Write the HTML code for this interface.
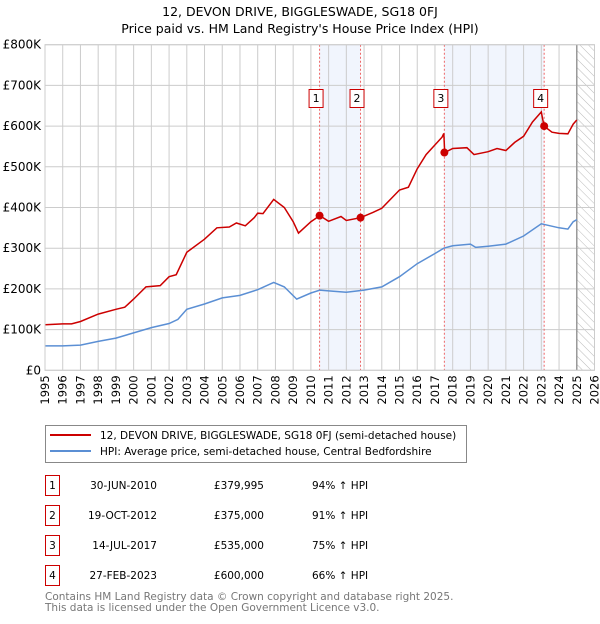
<!DOCTYPE html>
<html><head><meta charset="utf-8">
<style>
body{margin:0;background:#fff;font-family:"DejaVu Sans","Liberation Sans",sans-serif;}
svg text{font-family:"DejaVu Sans","Liberation Sans",sans-serif;}
</style></head>
<body>
<svg id="chart" width="600" height="620" xmlns="http://www.w3.org/2000/svg">
<defs>
<pattern id="hatch" width="6" height="6" patternUnits="userSpaceOnUse" patternTransform="rotate(-45)">
<line x1="0" y1="0" x2="0" y2="6" stroke="#bbb" stroke-width="1"/>
</pattern>
</defs>
<text x="300" y="16" text-anchor="middle" font-size="12.5">12, DEVON DRIVE, BIGGLESWADE, SG18 0FJ</text>
<text x="300" y="33" text-anchor="middle" font-size="12.5">Price paid vs. HM Land Registry's House Price Index (HPI)</text>
<g id="plot"></g>
<g>
<rect x="45.5" y="425.5" width="421" height="37" fill="#fff" stroke="#888"/>
<line x1="50" y1="435" x2="91" y2="435" stroke="#cc0000" stroke-width="2"/>
<text x="100" y="439" font-size="10.5">12, DEVON DRIVE, BIGGLESWADE, SG18 0FJ (semi-detached house)</text>
<line x1="50" y1="451" x2="91" y2="451" stroke="#5b8fd4" stroke-width="2"/>
<text x="100" y="455" font-size="10.5">HPI: Average price, semi-detached house, Central Bedfordshire</text>
</g>
<g id="table" font-size="10.5"></g>
<text x="45" y="600" font-size="10.5" fill="#777">Contains HM Land Registry data © Crown copyright and database right 2025.</text>
<text x="45" y="611" font-size="10.5" fill="#777">This data is licensed under the Open Government Licence v3.0.</text>
</svg>
<script>
const hpiYears=[1995,1996,1997,1998,1999,2000,2001,2002,2002.5,2003,2004,2005,2006,2007,2007.9,2008.5,2009.2,2010,2010.5,2011,2012,2013,2014,2015,2016,2017,2017.5,2018,2019,2019.3,2020,2021,2022,2023,2023.5,2024,2024.5,2024.8,2025];
const hpiValues=[60,60,62,71,79,92,105,115,125,150,163,178,184,198,216,205,175,190,197,195,192,197,205,230,262,287,300,306,310,302,305,310,330,360,355,350,347,365,370];
const priceYears=[1995,1996,1996.5,1997,1998,1999,1999.5,2000,2000.7,2001.5,2002,2002.4,2003,2004,2004.7,2005.4,2005.8,2006.3,2006.8,2007,2007.3,2007.9,2008.5,2009,2009.3,2010,2010.5,2011,2011.7,2012,2012.8,2013.5,2014,2015,2015.5,2016,2016.5,2017.4,2017.5,2017.55,2018,2018.8,2019.2,2020,2020.5,2021,2021.5,2022,2022.5,2022.9,2023,2023.15,2023.6,2024,2024.5,2024.8,2025];
const priceValues=[112,114,114,120,138,150,155,175,205,208,230,235,290,322,350,352,362,355,375,386,385,420,400,365,337,365,380,366,378,368,375,388,398,443,450,495,530,573,582,535,545,547,530,537,545,540,560,575,610,630,635,600,585,582,581,605,615];
const saleLabels=["1","2","3","4"];
const saleYears=[2010.49,2012.8,2017.53,2023.16];
const saleValues=[379.995,375,535,600];
const saleDates=["30-JUN-2010","19-OCT-2012","14-JUL-2017","27-FEB-2023"];
const salePrices=["£379,995","£375,000","£535,000","£600,000"];
const salePct=["94% ↑ HPI","91% ↑ HPI","75% ↑ HPI","66% ↑ HPI"];
const yTicks=[0,100,200,300,400,500,600,700,800];
const yTickLabels=["£0","£100K","£200K","£300K","£400K","£500K","£600K","£700K","£800K"];
const xTicks=[1995,1996,1997,1998,1999,2000,2001,2002,2003,2004,2005,2006,2007,2008,2009,2010,2011,2012,2013,2014,2015,2016,2017,2018,2019,2020,2021,2022,2023,2024,2025,2026];

const X0=45,X1=594.5,Y0=370.3,Y1=44.7;
const xs=y=>X0+(y-1995)/(2026-1995)*(X1-X0);
const ys=v=>Y0-v/800*(Y0-Y1);
const NS="http://www.w3.org/2000/svg";
const plot=document.getElementById('plot');
function mk(tag,attrs,parent){const e=document.createElementNS(NS,tag);for(const k in attrs)e.setAttribute(k,attrs[k]);(parent||plot).appendChild(e);return e;}

for(let i=0;i<4;i+=2){
 const r=mk('rect',{x:xs(saleYears[i]),y:Y1,width:xs(saleYears[i+1])-xs(saleYears[i]),height:Y0-Y1,fill:'#eef3fc',opacity:0.8});
 
 
}
const h=mk('rect',{x:xs(2025),y:Y1,width:X1-xs(2025),height:Y0-Y1,fill:'url(#hatch)'});


xTicks.forEach(t=>{
 const l=mk('line',{x1:xs(t),x2:xs(t),y1:Y1,y2:Y0,stroke:'#ccc','stroke-width':1});
 
 
 const tx=mk('text',{x:0,y:0,'font-size':11.5,'text-anchor':'end',transform:`translate(${xs(t)+4},${Y0+5}) rotate(-90)`});
 tx.textContent=t;
 
 
});
yTicks.forEach((t,i)=>{
 const l=mk('line',{x1:X0,x2:X1,y1:ys(t),y2:ys(t),stroke:'#ccc','stroke-width':1});
 
 
 const tx=mk('text',{x:X0-4,y:ys(t)+4,'font-size':12,'text-anchor':'end'});
 tx.textContent=yTickLabels[i];
 
 
});
const nl=mk('line',{x1:xs(2025),x2:xs(2025),y1:Y1,y2:Y0,stroke:'#999','stroke-width':1.5});


saleYears.forEach(s=>{
 const l=mk('line',{x1:xs(s),x2:xs(s),y1:Y1,y2:Y0,stroke:'#e66','stroke-width':1,'stroke-dasharray':'2,2'});
 
 
});
function pathOf(xa,va){return xa.map((x,i)=>(i?'L':'M')+xs(x).toFixed(1)+','+ys(va[i]).toFixed(1)).join('');}
const hp=mk('path',{d:pathOf(hpiYears,hpiValues),fill:'none',stroke:'#5b8fd4','stroke-width':1.5});


const pp=mk('path',{d:pathOf(priceYears,priceValues),fill:'none',stroke:'#cc0000','stroke-width':1.5});


saleYears.forEach((s,i)=>{
 const c=mk('circle',{cx:xs(s),cy:ys(saleValues[i]),r:4,fill:'#cc0000'});
 
 
 const g=mk('g',{});
 
 
 mk('rect',{x:xs(s)-10.5,y:89.5,width:14,height:18,fill:'#fff',stroke:'#cc0000'},g);
 const t=mk('text',{x:xs(s)-3.5,y:102,'font-size':11,'text-anchor':'middle'},g);
 t.textContent=saleLabels[i];
});
mk('rect',{x:X0,y:Y1,width:X1-X0,height:Y0-Y1,fill:'none',stroke:'#ccc'});
const tb=document.getElementById('table');
saleLabels.forEach((l,i)=>{
 const y0=475+i*30;
 const g=mk('g',{},tb);
 
 
 mk('rect',{x:45.5,y:y0+0.5,width:14,height:20,fill:'#fff',stroke:'#cc0000'},g);
 let t=mk('text',{x:52.5,y:y0+14,'text-anchor':'middle'},g);t.textContent=l;
 t=mk('text',{x:157,y:y0+14,'text-anchor':'end'},g);t.textContent=saleDates[i];
 t=mk('text',{x:264,y:y0+14,'text-anchor':'end'},g);t.textContent=salePrices[i];
 t=mk('text',{x:312,y:y0+14},g);t.textContent=salePct[i];
});
</script>
</body></html>
